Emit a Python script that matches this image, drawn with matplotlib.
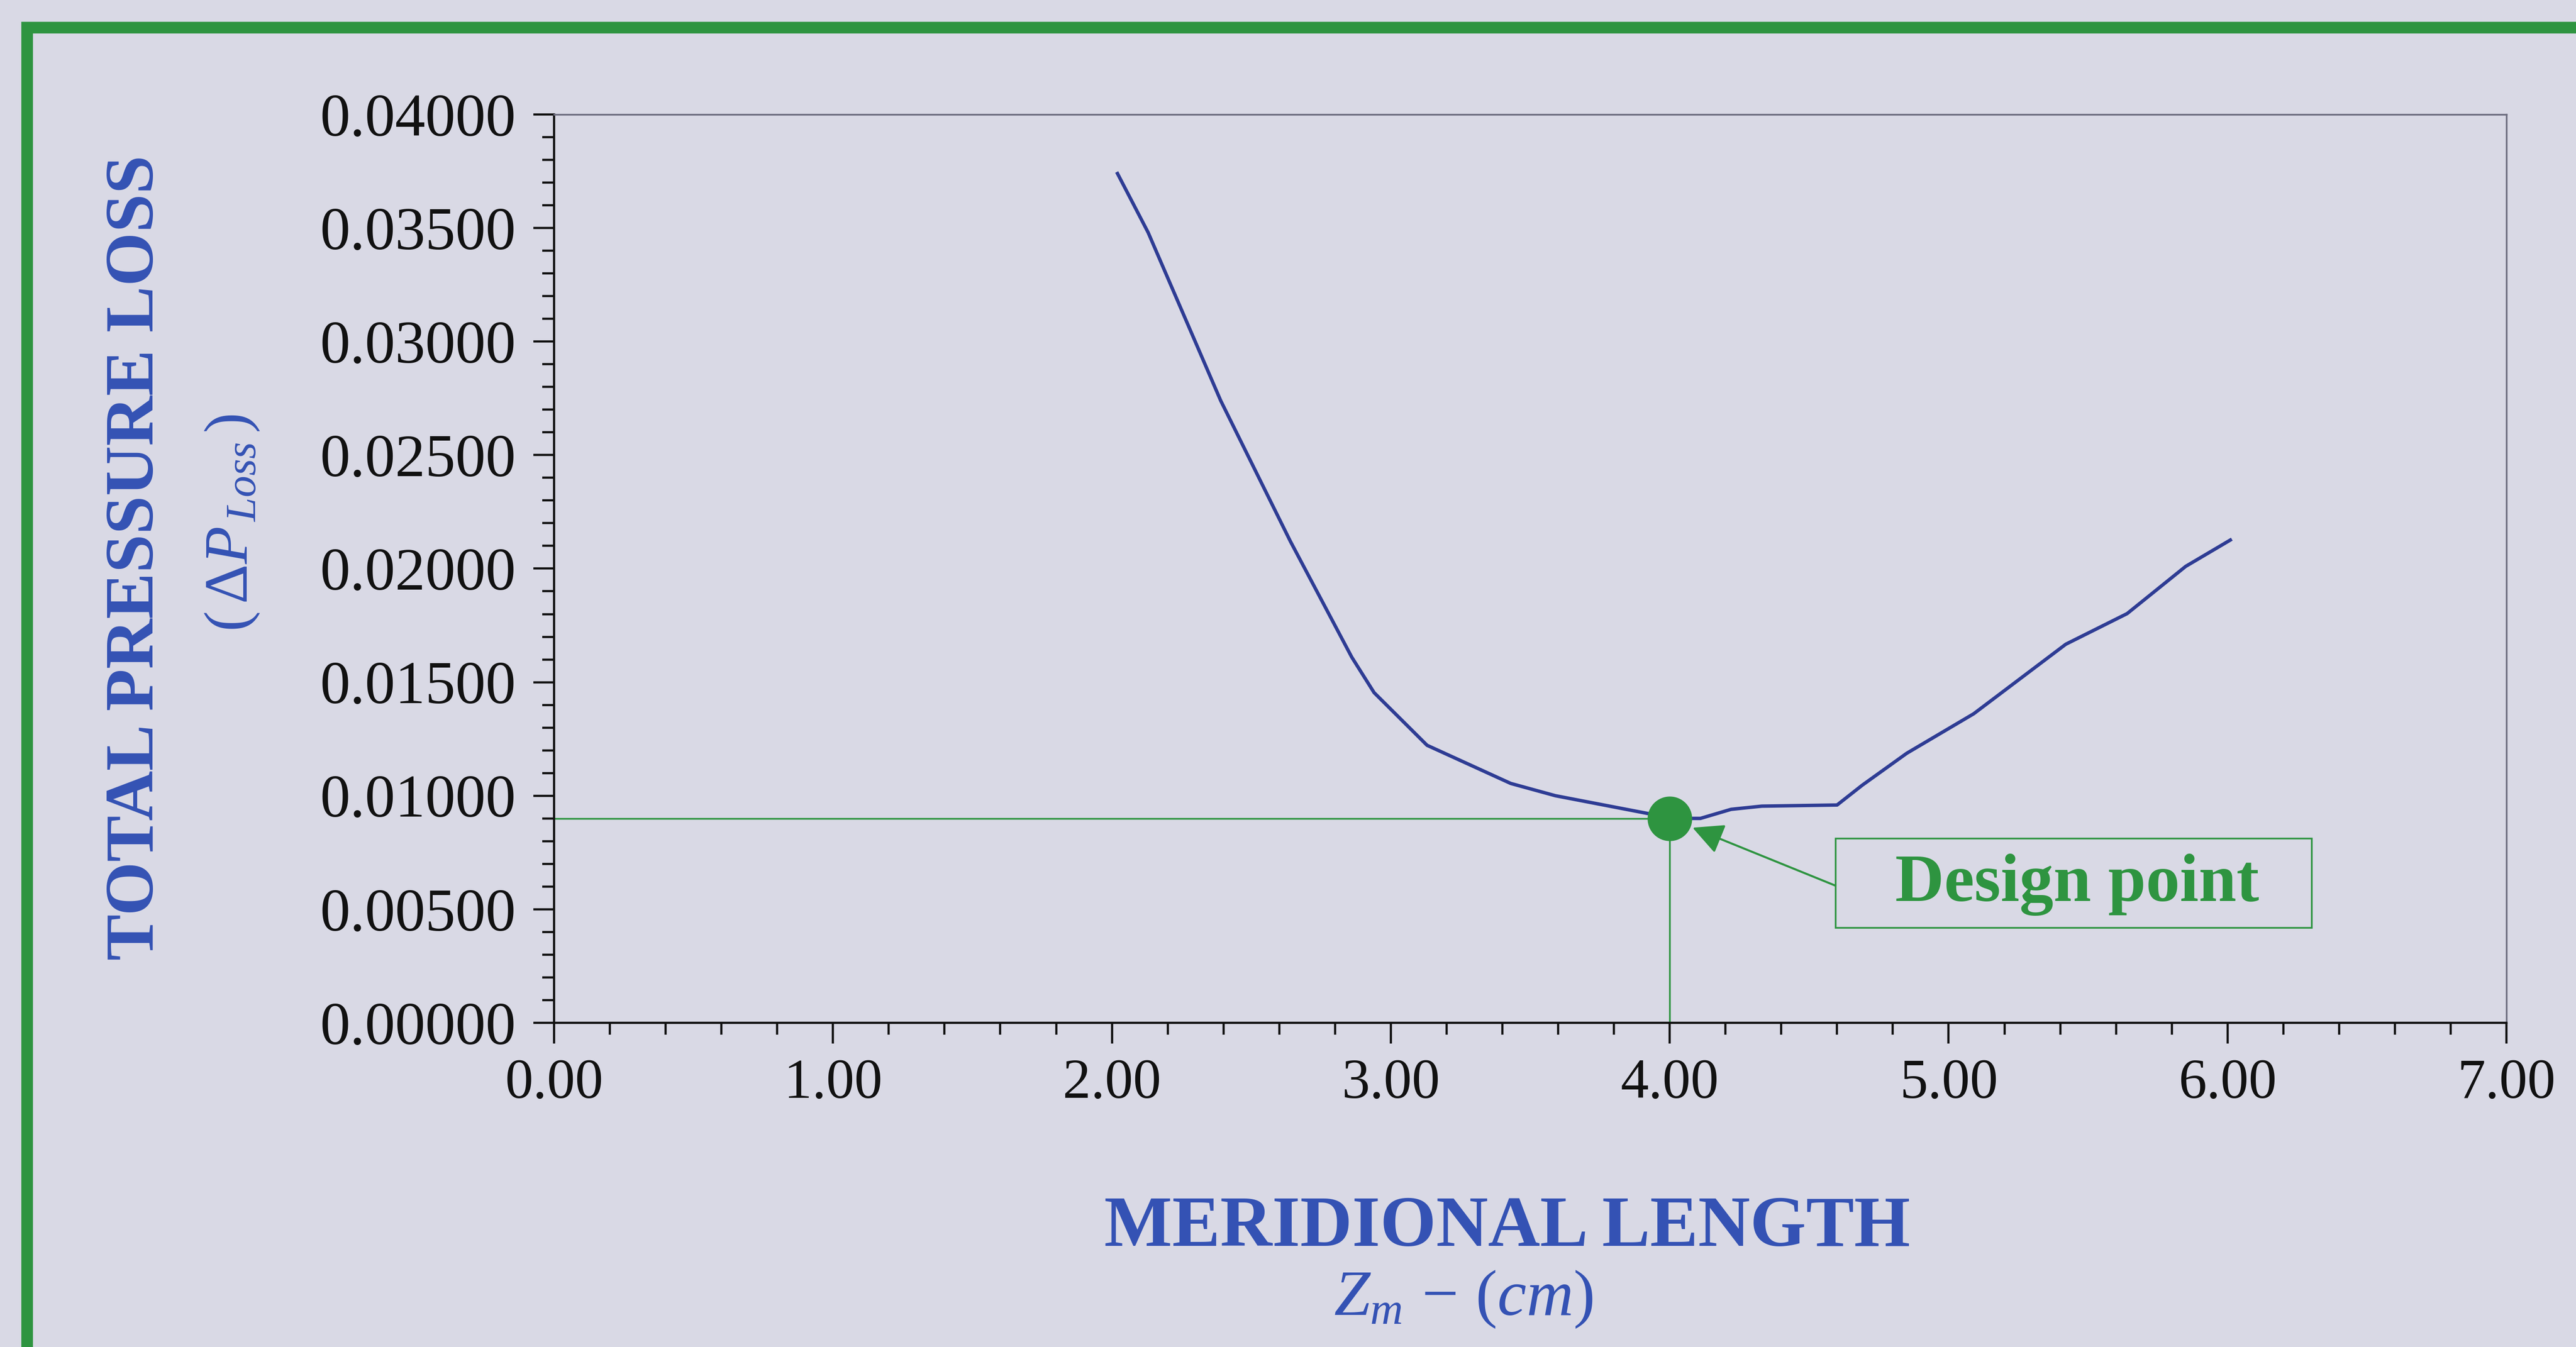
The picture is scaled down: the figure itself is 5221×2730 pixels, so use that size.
import matplotlib
matplotlib.use("Agg")
import matplotlib.pyplot as plt
from matplotlib.patches import Rectangle
from matplotlib.ticker import MultipleLocator, FormatStrFormatter

# ---- data ----
z_m = [2.02, 2.13, 2.39, 2.64, 2.86, 2.94, 3.13, 3.43, 3.59, 3.92, 4.00,
       4.11, 4.22, 4.33, 4.60, 4.69, 4.85, 5.09, 5.42, 5.64, 5.85, 6.01]
dp_loss = [0.0374, 0.0348, 0.0274, 0.0212, 0.0161, 0.01454, 0.01222, 0.01054,
           0.0100, 0.00922, 0.0090, 0.0090, 0.0094, 0.00954, 0.00959, 0.01046,
           0.01187, 0.01361, 0.01667, 0.01802, 0.0201, 0.02126]
design_x = 4.00
design_y = 0.0090
x_ticks = [0, 1, 2, 3, 4, 5, 6, 7]
y_ticks = [0.0, 0.005, 0.010, 0.015, 0.020, 0.025, 0.030, 0.035, 0.040]

BG = "#D9D9E5"
BLUE_LINE = "#2E3C94"
LABEL_BLUE = "#3452B4"
GREEN = "#2E9440"

plt.rcParams["mathtext.fontset"] = "custom"
plt.rcParams["mathtext.rm"] = "Liberation Serif"
plt.rcParams["mathtext.it"] = "Liberation Serif:italic"
plt.rcParams["mathtext.bf"] = "Liberation Serif:bold"

fig = plt.figure(figsize=(52.21, 27.30), dpi=100, facecolor=BG)
ax = fig.add_axes([0.2151, 0.2407, 0.7579, 0.6743])
ax.set_facecolor(BG)

# outer green frame (continues beyond the right and bottom edges)
fig.patches.append(Rectangle((0.0105, -0.2), 1.3, 1.1795, transform=fig.transFigure,
                             fill=False, edgecolor=GREEN, linewidth=17, zorder=0))

# guide lines to the design point
ax.plot([0, design_x], [design_y, design_y], color=GREEN, lw=2.5, zorder=2)
ax.plot([design_x, design_x], [0, design_y], color=GREEN, lw=2.5, zorder=2)

ax.plot(z_m, dp_loss, color=BLUE_LINE, lw=5, zorder=3)
ax.plot([design_x], [design_y], 'o', color=GREEN, ms=64, zorder=4)

ax.set_xlim(0, 7)
ax.set_ylim(0, 0.04)
ax.set_xticks(x_ticks)
ax.set_yticks(y_ticks)
ax.xaxis.set_minor_locator(MultipleLocator(0.2))
ax.yaxis.set_minor_locator(MultipleLocator(0.001))
ax.xaxis.set_major_formatter(FormatStrFormatter("%.2f"))
ax.yaxis.set_major_formatter(FormatStrFormatter("%.5f"))

for s in ["top", "right"]:
    ax.spines[s].set_color("#6E6E80")
    ax.spines[s].set_linewidth(2.5)
for s in ["left", "bottom"]:
    ax.spines[s].set_color("#111111")
    ax.spines[s].set_linewidth(3.2)

ax.tick_params(which="major", direction="out", length=30, width=3.2, color="#111111")
ax.tick_params(which="minor", direction="out", length=17, width=3.2, color="#111111")
ax.tick_params(axis="y", which="major", pad=26)
ax.tick_params(axis="x", which="major", pad=22)
for lab in ax.get_xticklabels():
    lab.set_fontfamily("Liberation Serif")
    lab.set_fontsize(82)
    lab.set_color("#111111")
for lab in ax.get_yticklabels():
    lab.set_fontfamily("Liberation Serif")
    lab.set_fontsize(88)
    lab.set_color("#111111")

# design point annotation box
ax.add_patch(Rectangle((0.6563, 0.1048), 0.2439, 0.0984, transform=ax.transAxes,
                       fill=False, edgecolor=GREEN, linewidth=2.5, zorder=5))
ax.text(0.780, 0.152, "Design point", transform=ax.transAxes, ha="center", va="center",
        fontsize=99, fontweight="bold", family="Liberation Serif", color=GREEN, zorder=5)
ax.annotate("", xy=(design_x, design_y), xytext=(0.6563, 0.151),
            textcoords="axes fraction",
            arrowprops=dict(arrowstyle="-|>,head_length=0.7,head_width=0.35",
                            mutation_scale=55, color=GREEN, lw=3,
                            shrinkA=0, shrinkB=36), zorder=5)

# axis titles
fig.text(0.053, 0.586, "TOTAL PRESSURE LOSS", rotation=90, ha="center", va="center",
         fontsize=101, fontweight="bold", family="Liberation Serif", color=LABEL_BLUE)
fig.text(0.090, 0.612, r"$(\,\Delta P_{\,Loss}\,)$", rotation=90, ha="center", va="center",
         fontsize=90, color=LABEL_BLUE)
fig.text(0.585, 0.088, "MERIDIONAL LENGTH", ha="center", va="center",
         fontsize=105, fontweight="bold", family="Liberation Serif", color=LABEL_BLUE)
fig.text(0.568, 0.036, r"$Z_{m}\,-\,(cm)$", ha="center", va="center",
         fontsize=95, color=LABEL_BLUE)

fig.savefig("out.png", dpi=100, facecolor=BG)
